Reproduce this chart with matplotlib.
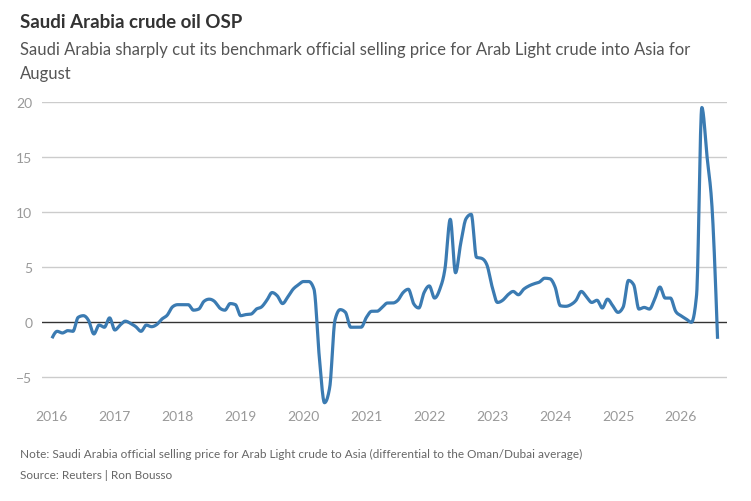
# Saudi Arabia crude oil OSP - Arab Light to Asia
import matplotlib
matplotlib.use("Agg")
import matplotlib.pyplot as plt
import numpy as np

plt.rcParams['font.family'] = ['Lato', 'DejaVu Sans']

# monthly values, Jan 2016 .. Aug 2026 (USD/bbl vs Oman/Dubai)
osp_2016 = [-1.45, -0.82, -0.97, -0.76, -0.82, 0.45, 0.6, 0.15, -1.06, -0.25, -0.45, 0.4]
osp_2017 = [-0.7, -0.25, 0.1, -0.1, -0.4, -0.82, -0.25, -0.4, -0.2, 0.3, 0.65, 1.4]
osp_2018 = [1.6, 1.6, 1.6, 1.1, 1.2, 1.9, 2.1, 1.9, 1.3, 1.1, 1.7, 1.6]
osp_2019 = [0.6, 0.7, 0.75, 1.2, 1.4, 2.0, 2.7, 2.4, 1.7, 2.3, 3.0, 3.4]
osp_2020 = [3.7, 3.7, 3.0, -3.1, -7.3, -5.9, 0.2, 1.15, 0.9, -0.45, -0.45, -0.45]
osp_2021 = [0.45, 1.0, 1.0, 1.35, 1.75, 1.75, 2.0, 2.7, 3.0, 1.7, 1.3, 2.7]
osp_2022 = [3.3, 2.2, 3.0, 4.9, 9.35, 4.5, 7.2, 9.4, 9.8, 5.9, 5.8, 5.2]
osp_2023 = [3.2, 1.8, 2.0, 2.5, 2.8, 2.5, 3.0, 3.3, 3.5, 3.65, 4.0, 3.95]
osp_2024 = [3.2, 1.5, 1.45, 1.6, 2.0, 2.8, 2.3, 1.8, 2.0, 1.3, 2.1, 1.5]
osp_2025 = [0.9, 1.4, 3.8, 3.4, 1.2, 1.35, 1.2, 2.1, 3.2, 2.2, 2.2, 1.0]
osp_2026 = [0.6, 0.3, 0.0, 2.5, 19.5, 15.0, 10.0, -1.5]

years = list(range(2016, 2027))
yticks = [-5, 0, 5, 10, 15, 20]
ytick_labels = ["\u22125", "0", "5", "10", "15", "20"]

osp = np.array(osp_2016 + osp_2017 + osp_2018 + osp_2019 + osp_2020 + osp_2021
               + osp_2022 + osp_2023 + osp_2024 + osp_2025 + osp_2026)
t = 2016 + np.arange(len(osp)) / 12


def monotone_curve(x, y, n=16):
    # same kind of smoothing as d3 curveMonotoneX, only for drawing
    h = np.diff(x)
    s = np.diff(y) / h
    sg = lambda v: np.where(v < 0, -1.0, 1.0)
    p = (s[:-1] * h[1:] + s[1:] * h[:-1]) / (h[:-1] + h[1:])
    m = np.zeros_like(y)
    m[1:-1] = (sg(s[:-1]) + sg(s[1:])) * np.minimum(np.minimum(abs(s[:-1]), abs(s[1:])), 0.5 * abs(p))
    m[0] = (3 * s[0] - m[1]) / 2
    m[-1] = (3 * s[-1] - m[-2]) / 2
    xs, ys = [], []
    u = np.linspace(0, 1, n, endpoint=False)
    for k in range(len(x) - 1):
        h00 = 2 * u**3 - 3 * u**2 + 1
        h10 = u**3 - 2 * u**2 + u
        h01 = -2 * u**3 + 3 * u**2
        h11 = u**3 - u**2
        xs.append(x[k] + u * h[k])
        ys.append(h00 * y[k] + h10 * h[k] * m[k] + h01 * y[k + 1] + h11 * h[k] * m[k + 1])
    xs.append([x[-1]])
    ys.append([y[-1]])
    return np.concatenate(xs), np.concatenate(ys)


fig = plt.figure(figsize=(7.51, 5.02), dpi=100)
ax = fig.add_axes([42 / 751, 1 - 407 / 502, 685 / 751, 304 / 502])

sx, sy = monotone_curve(t, osp)
ax.plot(sx, sy, color="#3b7bb2", lw=2.3, solid_capstyle="butt", zorder=3, clip_on=False)

ax.set_xlim(2016 - 1.9 / 12, 2016 + 128.8 / 12)
ax.set_ylim(-7.6, 20)
for v in yticks:
    ax.axhline(v, color="#333333" if v == 0 else "#cccccc", lw=1.0, zorder=1)

ax.set_yticks(yticks)
ax.set_yticklabels(ytick_labels)
ax.set_xticks(years)
ax.set_xticklabels([str(y) for y in years])
ax.tick_params(axis="both", length=0, colors="#999999", labelsize=10)
ax.tick_params(axis="y", pad=7)
ax.tick_params(axis="x", pad=3)
for sp in ax.spines.values():
    sp.set_visible(False)

fig.text(20 / 751, 1 - 22 / 502, "Saudi Arabia crude oil OSP", fontsize=13.5,
         fontweight="bold", color="#333333", va="center")
fig.text(20 / 751, 1 - 50 / 502, "Saudi Arabia sharply cut its benchmark official selling price for Arab Light crude into Asia for",
         fontsize=12, color="#555555", va="center")
fig.text(20 / 751, 1 - 74 / 502, "August", fontsize=12, color="#555555", va="center")
fig.text(20 / 751, 1 - 454 / 502, "Note: Saudi Arabia official selling price for Arab Light crude to Asia (differential to the Oman/Dubai average)",
         fontsize=8.5, color="#666666", va="center")
fig.text(20 / 751, 1 - 476 / 502, "Source: Reuters | Ron Bousso", fontsize=8.5, color="#666666", va="center")

fig.savefig("out.png", dpi=100)
